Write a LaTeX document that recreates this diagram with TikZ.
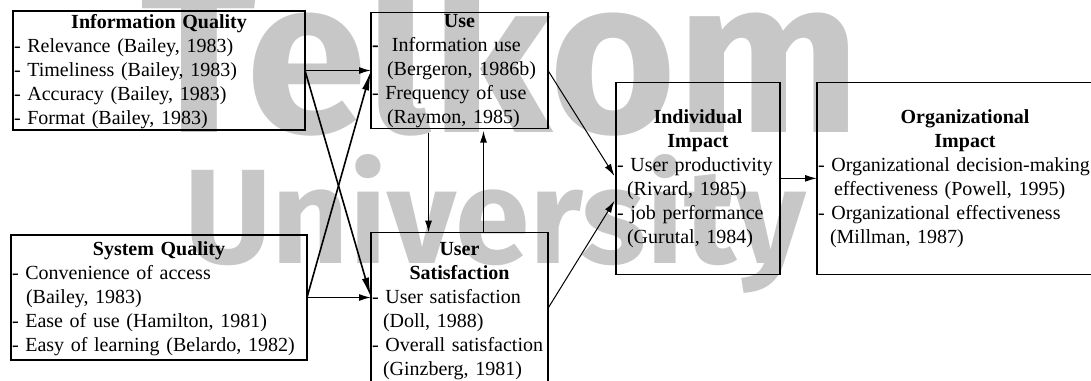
\documentclass[tikz,border=0pt]{standalone}
\usepackage{fontspec}
\setmainfont{Liberation Serif}
\newfontfamily\markfont{Fira Sans}
\usepackage{graphicx}
\usetikzlibrary{arrows.meta,positioning}

% bold centred heading, optional strut sets the first line height
\newcommand{\boxhead}[2][0pt]{{\centering\bfseries\rule{0pt}{#1}#2\par}}
\hyphenpenalty=10000

\begin{document}
\begin{tikzpicture}[x=0.5pt,y=-0.5pt,
    block/.style={draw, line width=0.6pt, inner xsep=0.5pt, inner ysep=0.5pt, outer sep=0pt,
                  font=\fontsize{10}{12}\selectfont},
    link/.style={line width=0.7pt, -{Latex[length=6pt,width=3.5pt]}},
    longlink/.style={line width=0.8pt, -{Latex[length=10pt,width=3.5pt]}},
    wmark/.style={text=black!22, inner sep=0pt, font=\markfont\bfseries}]
    \useasboundingbox (0,0) rectangle (1091,380);

    % watermark behind the diagram
    \node[wmark, anchor=base west] (telkom) at (140,132) {\resizebox{360pt}{!}{Telkom}};
    \node[wmark, anchor=base west] (univ) at (184,263) {\resizebox{310.5pt}{!}{University}};

    % \node[block, options] (identifier) [placement] {display};
    \node[block, text width=145pt, minimum height=59.5pt] (iq) at (159,70.5) {
        \boxhead[8pt]{Information Quality}
        - Relevance (Bailey, 1983)\\
        - Timeliness (Bailey, 1983)\\
        - Accuracy (Bailey, 1983)\\
        - Format (Bailey, 1983)};
    \node[block, text width=147pt, minimum height=62.5pt] (sq) [below=52.5pt of iq] {
        \boxhead[8pt]{System Quality}
        - Convenience of access\\
        \hspace*{7pt}(Bailey, 1983)\\
        - Ease of use (Hamilton, 1981)\\
        - Easy of learning (Belardo, 1982)};
    \node[block, text width=87.5pt, minimum height=58pt] (use) [right=33pt of iq] {
        \boxhead[7pt]{Use}
        \textbf{-}\ \ Information use\\
        \hspace*{7.5pt}(Bergeron, 1986b)\\
        - Frequency of use\\
        \hspace*{7.5pt}(Raymon, 1985)};
    \node[block, text width=87.5pt, inner ysep=2pt] (us) [below=52pt of use] {
        \boxhead[9.5pt]{User\\Satisfaction}
        - User satisfaction\\
        \hspace*{5.5pt}(Doll, 1988)\\
        - Overall satisfaction\\
        \hspace*{5.5pt}(Ginzberg, 1981)};
    \node[block, text width=81pt, minimum height=96pt] (ii) [below right=35pt and 34pt of use.north east] {
        \boxhead{Individual\\Impact}
        - User productivity\\
        \hspace*{5pt}(Rivard, 1985)\\
        - job performance\\
        \hspace*{5pt}(Gurutal, 1984)};
    \node[block, text width=147pt, minimum height=96pt] (oi) [right=18.5pt of ii] {
        \boxhead{Organizational\\Impact}
        - Organizational decision-making\\
        \hspace*{8pt}effectiveness (Powell, 1995)\\
        - Organizational effectiveness\\
        \hspace*{6pt}(Millman, 1987)};

    % quality to use and satisfaction
    \draw[link] (iq.east) -- (use.west);
    \draw[longlink] (iq.east) -- (sq.east -| us.west);
    \draw[link] (sq.east) -- (sq.east -| us.west);
    \draw[longlink] (sq.east) -- (use.west);

    % use <-> satisfaction
    \draw[link, shorten <=2pt] ([xshift=-15.5pt]use.south) -- ([xshift=-15.5pt]us.north);
    \draw[link, shorten >=1pt] ([xshift=12pt]us.north) -- ([xshift=12pt]use.south);

    % impacts
    \draw[link, line width=0.5pt, shorten >=1.5pt] (use.east) -- (ii.west);
    \draw[link, line width=0.5pt, shorten >=1.5pt] (us.east) -- ([yshift=-10pt]ii.west);
    \draw[link] (ii) -- (oi);
\end{tikzpicture}
\end{document}
